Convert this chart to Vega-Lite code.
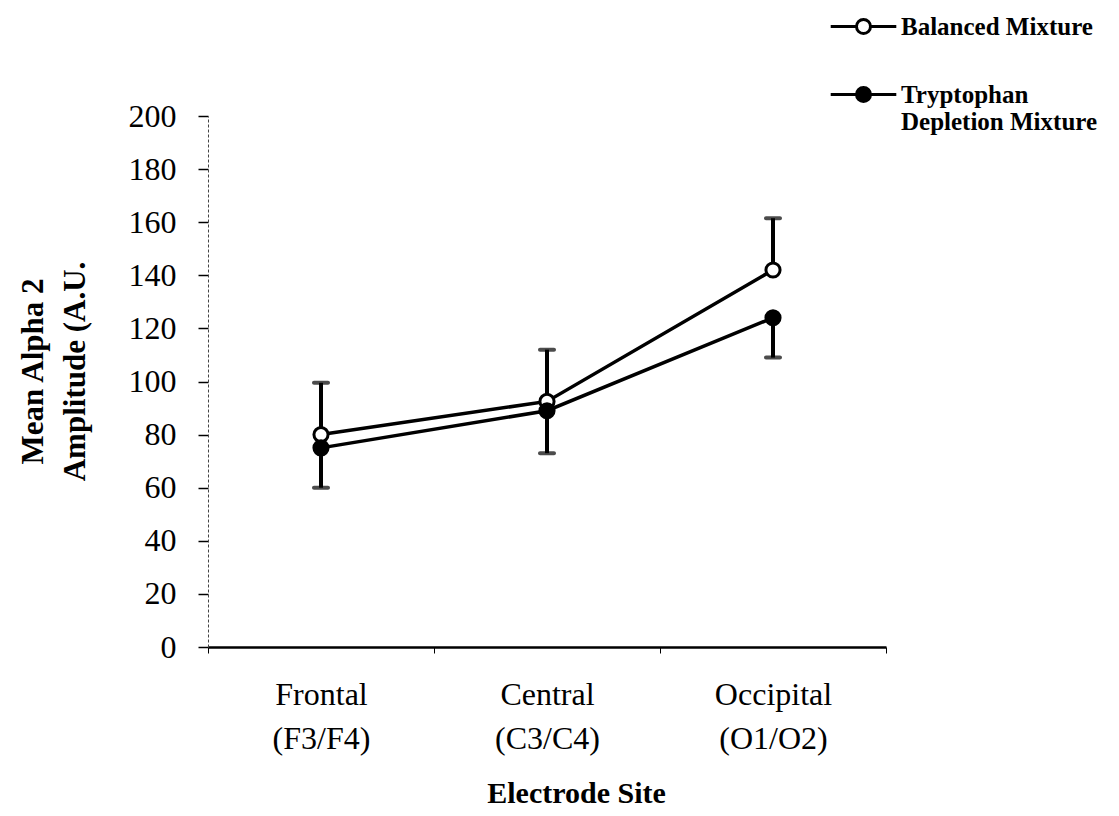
{
  "$schema": "https://vega.github.io/schema/vega-lite/v6.json",
  "autosize": "none",
  "width": 678,
  "height": 531,
  "padding": {"left": 208, "top": 116, "right": 233, "bottom": 169},
  "background": "white",
  "config": {
    "font": "Liberation Serif",
    "view": {"stroke": null},
    "axis": {"grid": false, "labelColor": "black", "titleColor": "black", "tickColor": "black", "domainColor": "black"}
  },
  "data": {
    "values": [
      {"site": "Frontal (F3/F4)", "series": "Balanced Mixture", "value": 80, "err_end": 99.5},
      {"site": "Central (C3/C4)", "series": "Balanced Mixture", "value": 92.5, "err_end": 112},
      {"site": "Occipital (O1/O2)", "series": "Balanced Mixture", "value": 142, "err_end": 161.5},
      {"site": "Frontal (F3/F4)", "series": "Tryptophan Depletion Mixture", "value": 75, "err_end": 60},
      {"site": "Central (C3/C4)", "series": "Tryptophan Depletion Mixture", "value": 89, "err_end": 73},
      {"site": "Occipital (O1/O2)", "series": "Tryptophan Depletion Mixture", "value": 124, "err_end": 109}
    ]
  },
  "encoding": {
    "x": {
      "field": "site",
      "type": "nominal",
      "sort": null,
      "scale": {"type": "band", "domain": ["Frontal (F3/F4)", "Central (C3/C4)", "Occipital (O1/O2)"], "paddingInner": 0, "paddingOuter": 0},
      "axis": {
        "title": "Electrode Site",
        "titleFontSize": 30,
        "titleFontWeight": "bold",
        "titleX": 368,
        "titleY": 155,
        "titleAlign": "center",
        "titleBaseline": "alphabetic",
        "labelAngle": 0,
        "labelExpr": "split(datum.label, ' ')",
        "labelFontSize": 32,
        "labelLineHeight": 44,
        "labelBaseline": "alphabetic",
        "labelPadding": 51,
        "tickBand": "extent",
        "tickSize": 6,
        "tickWidth": 1,
        "domainWidth": 2.5
      }
    },
    "y": {
      "field": "value",
      "type": "quantitative",
      "scale": {"domain": [0, 200], "nice": false},
      "axis": {
        "title": ["Mean Alpha 2", "Amplitude (A.U."],
        "titleFontSize": 31,
        "titleFontWeight": "bold",
        "titleLineHeight": 42,
        "titleX": -175,
        "titleY": 255,
        "titleAlign": "center",
        "titleBaseline": "middle",
        "titleAngle": -90,
        "values": [0, 20, 40, 60, 80, 100, 120, 140, 160, 180, 200],
        "labelFontSize": 32,
        "labelPadding": 22,
        "tickSize": 10,
        "tickWidth": 1.5,
        "domainWidth": 1,
        "domainDash": [3, 2],
        "domainColor": "#444"
      }
    }
  },
  "layer": [
    {
      "mark": {"type": "rule", "color": "black", "strokeWidth": 4},
      "encoding": {"y2": {"field": "err_end"}}
    },
    {
      "mark": {"type": "tick", "orient": "horizontal", "color": "black", "size": 18, "thickness": 4, "cornerRadius": 2},
      "encoding": {"y": {"field": "err_end", "type": "quantitative"}}
    },
    {
      "mark": {"type": "line", "color": "black", "strokeWidth": 3.5},
      "encoding": {"detail": {"field": "series"}}
    },
    {
      "mark": {"type": "point", "shape": "circle", "size": 200, "stroke": "black", "strokeWidth": 3, "opacity": 1, "filled": true},
      "encoding": {
        "fill": {
          "field": "series",
          "type": "nominal",
          "scale": {"domain": ["Balanced Mixture", "Tryptophan Depletion Mixture"], "range": ["white", "black"]},
          "legend": {
            "title": null,
            "orient": "none",
            "legendX": 643,
            "legendY": -102,
            "padding": 0,
            "symbolType": "M-4.1,0H-0.875M0.875,0H4.1M-0.875,0A0.875,0.875,0,1,1,0.875,0A0.875,0.875,0,1,1,-0.875,0Z",
            "symbolSize": 256,
            "symbolStrokeColor": "black",
            "symbolStrokeWidth": 3,
            "symbolOpacity": 1,
            "labelOffset": 25,
            "labelFont": "Liberation Serif",
            "labelFontWeight": "bold",
            "labelFontSize": 25,
            "labelColor": "black",
            "labelLineHeight": 28,
            "labelLimit": 400,
            "rowPadding": 41,
            "labelExpr": "datum.label == 'Tryptophan Depletion Mixture' ? ['Tryptophan', 'Depletion Mixture'] : datum.label"
          }
        }
      }
    }
  ]
}
